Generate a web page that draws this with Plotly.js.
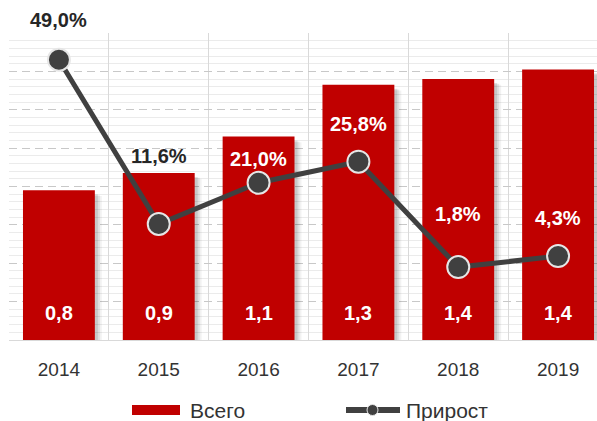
<!DOCTYPE html>
<html>
<head>
<meta charset="utf-8">
<script src="https://cdn.plot.ly/plotly-3.0.1.min.js"></script>
<style>html,body{margin:0;padding:0;background:#fff;overflow:hidden}</style>
</head>
<body>
<div id="chart" style="width:597px;height:421px"></div>
<script>
// ---- data ----
const years = ['2014', '2015', '2016', '2017', '2018', '2019'];
const totals = [0.78, 0.87, 1.06, 1.33, 1.36, 1.41];
const growth = [49.0, 11.6, 21.0, 25.8, 1.8, 4.3];
const seriesNames = ['Всего', 'Прирост'];

// ---- styles ----
const growthLabelShift = [40, 68, 24, 38, 53, 38];
const growthLabelColor = ['#262626', '#262626', '#ffffff', '#ffffff', '#ffffff', '#ffffff'];
const FONT = 'Liberation Sans, Arial, sans-serif';
const W = 597, H = 421, ML = 9, MR = 0, MT = 33, MB = 81;
const PW = W - ML - MR, PH = H - MT - MB;
const px = x => (x - ML) / PW;
const py = y => (H - MB - y) / PH;
const fmt = (v, d) => v.toFixed(d).replace('.', ',');
const BARW = 0.72;

// soft drop shadow layers behind the bars
const shadowLayers = [
  {dx: 0.07, dy: 0.03, c: 'rgba(0,0,0,0.05)'},
  {dx: 0.05, dy: 0.025, c: 'rgba(0,0,0,0.08)'},
  {dx: 0.03, dy: 0.02, c: 'rgba(0,0,0,0.10)'}
].map(s => ({
  type: 'bar', x: years, y: totals.map(v => v - s.dy), width: BARW,
  offset: -BARW / 2 + s.dx, marker: {color: s.c, line: {width: 0}},
  hoverinfo: 'skip', showlegend: false
}));

const bars = {
  type: 'bar', x: years, y: totals, name: seriesNames[0],
  marker: {color: '#C00000', line: {width: 0}}, width: BARW, offset: -BARW / 2, hoverinfo: 'skip'
};
const line = {
  type: 'scatter', mode: 'lines+markers', x: years, y: growth, yaxis: 'y2',
  name: seriesNames[1],
  line: {color: '#404040', width: 5},
  marker: {color: '#404040', size: 22, line: {color: '#E6E6E6', width: 2}},
  hoverinfo: 'skip'
};

const annotations = [];
years.forEach((yr, i) => {
  annotations.push({
    x: i, y: 0, xref: 'x', yref: 'y', yshift: 27, showarrow: false,
    text: '<b>' + fmt(totals[i], 1) + '</b>',
    font: {family: FONT, size: 20, color: '#ffffff'}
  });
  annotations.push({
    x: i, y: growth[i], xref: 'x', yref: 'y2', yshift: growthLabelShift[i], showarrow: false,
    text: '<b>' + fmt(growth[i], 1) + '%</b>',
    font: {family: FONT, size: 20, color: growthLabelColor[i]}
  });
});
// custom legend texts
annotations.push({xref: 'paper', yref: 'paper', x: px(188), y: py(410), xanchor: 'left', yanchor: 'middle',
  showarrow: false, text: seriesNames[0], font: {family: FONT, size: 21, color: '#333333'}});
annotations.push({xref: 'paper', yref: 'paper', x: px(404), y: py(410), xanchor: 'left', yanchor: 'middle',
  showarrow: false, text: seriesNames[1], font: {family: FONT, size: 21, color: '#333333'}});

const shapes = [
  {type: 'rect', xref: 'paper', yref: 'paper', x0: px(132), x1: px(180), y0: py(415), y1: py(405),
    fillcolor: '#C00000', line: {width: 0}},
  {type: 'line', xref: 'paper', yref: 'paper', x0: px(346), x1: px(400), y0: py(410), y1: py(410),
    line: {color: '#404040', width: 6}},
  {type: 'circle', xref: 'paper', yref: 'paper', x0: px(367), x1: px(378), y0: py(415.5), y1: py(404.5),
    fillcolor: '#404040', line: {color: '#E6E6E6', width: 1}}
];

const layout = {
  width: W, height: H,
  margin: {l: ML, r: MR, t: MT, b: MB, pad: 0},
  paper_bgcolor: '#ffffff', plot_bgcolor: '#ffffff',
  showlegend: false,
  barmode: 'overlay',
  font: {family: FONT},
  xaxis: {
    type: 'category', range: [-0.5, 5.39],
    tickson: 'boundaries', showgrid: true, gridcolor: '#D9D9D9', gridwidth: 1,
    ticks: '', ticklabelstandoff: 12,
    tickfont: {family: FONT, size: 19, color: '#333333'},
    showline: true, linecolor: '#D9D9D9', linewidth: 1,
    zeroline: false, fixedrange: true
  },
  yaxis: {
    range: [0, 1.6], dtick: 0.2, tick0: 0,
    showgrid: true, gridcolor: '#C8C8C8', gridwidth: 1, griddash: '8px,5px',
    minor: {dtick: 0.04, showgrid: true, gridcolor: '#EBEBEB', gridwidth: 1, griddash: 'solid'},
    showticklabels: false, ticks: '', zeroline: false, showline: false, fixedrange: true
  },
  yaxis2: {
    overlaying: 'y', side: 'right', range: [-14.8, 55.1],
    showgrid: false, showticklabels: false, ticks: '', zeroline: false, showline: false, fixedrange: true
  },
  annotations: annotations,
  shapes: shapes
};

Plotly.newPlot('chart', shadowLayers.concat([bars, line]), layout, {displayModeBar: false, staticPlot: true});
</script>
</body>
</html>
